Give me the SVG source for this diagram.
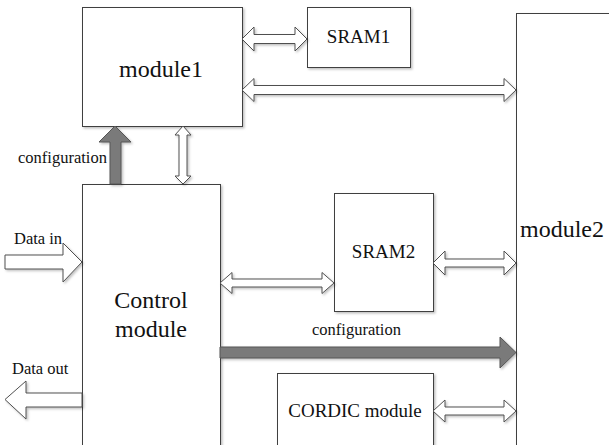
<svg xmlns="http://www.w3.org/2000/svg" width="609" height="445" viewBox="0 0 609 445">
<style>
.box{fill:#fff;stroke:#404040;stroke-width:1}
.open{fill:#fff;stroke:#505050;stroke-width:1;stroke-linejoin:miter}
.solid{fill:#7a7a7a;stroke:#555;stroke-width:1}
</style>
<defs>
<filter id="sh" x="-10%" y="-10%" width="130%" height="130%">
<feDropShadow dx="1.5" dy="1.5" stdDeviation="0.8" flood-color="#000" flood-opacity="0.25"/>
</filter>
</defs>
<rect width="609" height="445" fill="#fff"/>
<g id="module2">
<rect class="box" x="516.5" y="13.5" width="200" height="500" filter="url(#sh)"/>
<text x="520" y="237" font-family="Liberation Serif, serif" font-size="24" fill="#111">module2</text>
</g>
<g id="module1">
<rect class="box" x="82.5" y="7.5" width="160" height="119" filter="url(#sh)"/>
<text x="161" y="77" text-anchor="middle" font-family="Liberation Serif, serif" font-size="24" fill="#111">module1</text>
</g>
<g id="sram1">
<rect class="box" x="307.5" y="7.5" width="103" height="60" filter="url(#sh)"/>
<text x="358.5" y="43" text-anchor="middle" font-family="Liberation Serif, serif" font-size="19" fill="#111">SRAM1</text>
</g>
<g id="control">
<rect class="box" x="82.5" y="184.5" width="138" height="280" filter="url(#sh)"/>
<text x="151" y="308" text-anchor="middle" font-family="Liberation Serif, serif" font-size="24" fill="#111">Control</text>
<text x="151" y="337" text-anchor="middle" font-family="Liberation Serif, serif" font-size="24" fill="#111">module</text>
</g>
<g id="sram2">
<rect class="box" x="334.5" y="193.5" width="99" height="118" filter="url(#sh)"/>
<text x="383.5" y="258" text-anchor="middle" font-family="Liberation Serif, serif" font-size="19" fill="#111">SRAM2</text>
</g>
<g id="cordic">
<rect class="box" x="277.5" y="373.5" width="156" height="90" filter="url(#sh)"/>
<text x="355" y="417" text-anchor="middle" font-family="Liberation Serif, serif" font-size="19" fill="#111">CORDIC module</text>
</g>
<g id="connectors">
<g filter="url(#sh)">
<polygon class="solid" points="110,184 110,142 99,142 115,126 131,142 121,142 121,184"/>
<polygon class="open" points="183,126 191,135 187,135 187,176 191,176 183,184 175,176 179,176 179,135 175,135"/>
<polygon class="open" points="242,39 254,27 254,34.5 295,34.5 295,27 307,39 295,51 295,43.5 254,43.5 254,51"/>
<polygon class="open" points="242,90 254,78.5 254,85.5 504,85.5 504,78.5 516,90 504,101.5 504,94.5 254,94.5 254,101.5"/>
<polygon class="open" points="220,283 232,272.5 232,279 322,279 322,272.5 334,283 322,293.5 322,287 232,287 232,293.5"/>
<polygon class="open" points="433,263 445,251 445,259 504,259 504,251 516,263 504,275 504,267 445,267 445,275"/>
<polygon class="open" points="433,411 445,400 445,407 504,407 504,400 516,411 504,422 504,415 445,415 445,422"/>
<polygon class="open" points="5,255 63,255 63,243 82,262 63,282 63,269 5,269"/>
<polygon class="open" points="82,393 26,393 26,381 5,399.5 26,419 26,407 82,407"/>
<polygon class="solid" points="220,347 500,347 500,337 516,352.5 500,368 500,358 220,358"/>
</g>
<text x="18" y="163" font-family="Liberation Serif, serif" font-size="16.5" fill="#111">configuration</text>
<text x="14" y="244" font-family="Liberation Serif, serif" font-size="16.5" fill="#111">Data in</text>
<text x="12" y="374" font-family="Liberation Serif, serif" font-size="16.5" fill="#111">Data out</text>
<text x="312" y="335" font-family="Liberation Serif, serif" font-size="16.5" fill="#111">configuration</text>
</g>
</svg>
